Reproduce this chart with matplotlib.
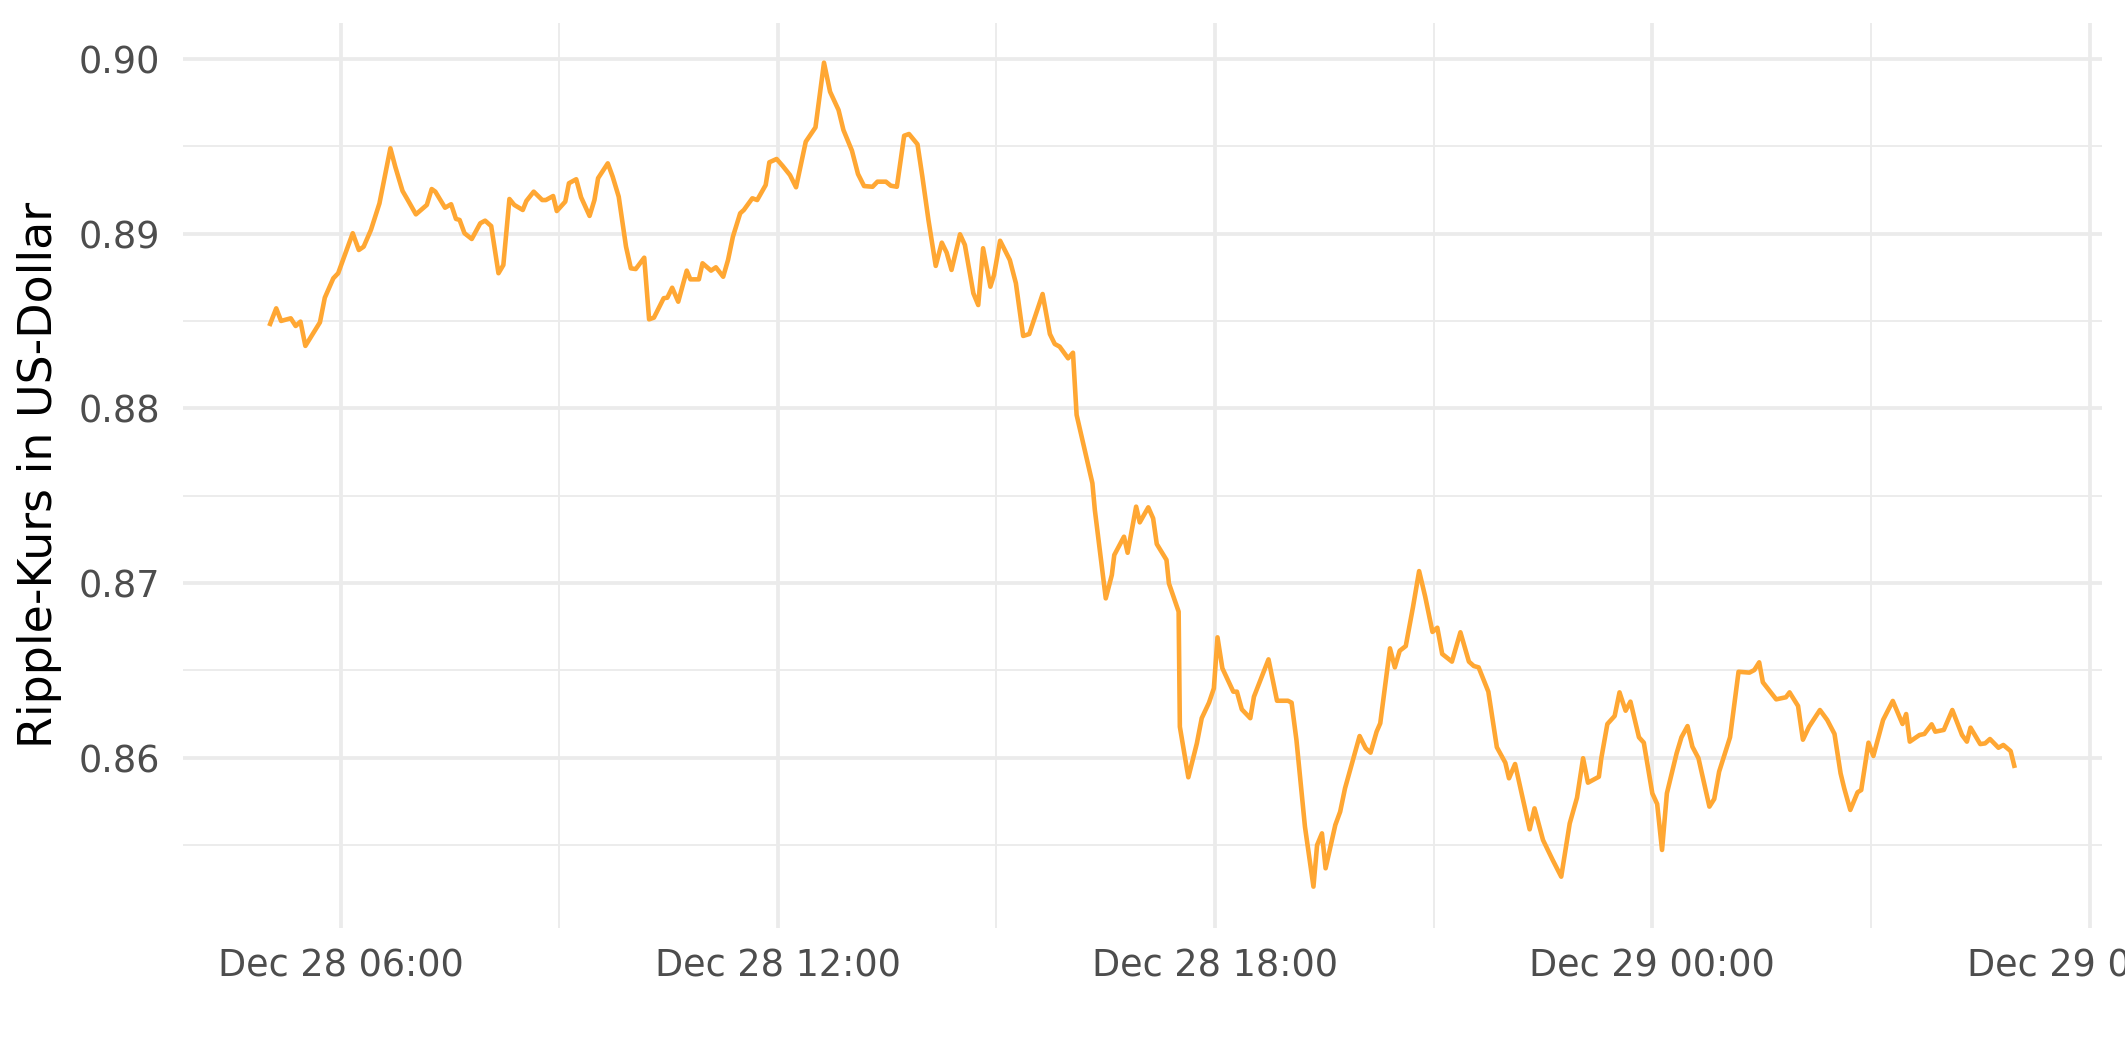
import pandas as pd
import matplotlib
matplotlib.use("Agg")
import matplotlib.pyplot as plt
import matplotlib.dates as mdates

# Ripple-Kurs (Dec 28 / Dec 29)
times_28 = ["05:02", "05:07", "05:11", "05:19", "05:23", "05:27", "05:31", "05:43", "05:47", "05:54",
            "05:58", "06:03", "06:10", "06:15", "06:19", "06:25", "06:32", "06:41", "06:45", "06:51",
            "06:55", "07:02", "07:11", "07:15", "07:18", "07:26", "07:31", "07:35", "07:38", "07:42",
            "07:48", "07:55", "07:59", "08:04", "08:10", "08:14", "08:19", "08:23", "08:30", "08:33",
            "08:39", "08:46", "08:49", "08:55", "08:58", "09:05", "09:08", "09:14", "09:18", "09:25",
            "09:29", "09:32", "09:40", "09:44", "09:49", "09:55", "09:59", "10:03", "10:10", "10:14",
            "10:18", "10:26", "10:29", "10:33", "10:38", "10:45", "10:48", "10:55", "10:58", "11:05",
            "11:09", "11:15", "11:19", "11:23", "11:29", "11:32", "11:39", "11:43", "11:50", "11:53",
            "11:59", "12:04", "12:10", "12:15", "12:23", "12:31", "12:38", "12:43", "12:50", "12:54",
            "13:01", "13:06", "13:11", "13:18", "13:22", "13:29", "13:33", "13:38", "13:44", "13:48",
            "13:55", "13:59", "14:04", "14:10", "14:15", "14:19", "14:23", "14:30", "14:34", "14:41",
            "14:45", "14:49", "14:55", "14:58", "15:03", "15:11", "15:16", "15:22", "15:27", "15:38",
            "15:44", "15:48", "15:52", "15:59", "16:03", "16:06", "16:19", "16:21", "16:30", "16:35",
            "16:37", "16:45", "16:48", "16:55", "16:58", "17:05", "17:09", "17:12", "17:20", "17:22",
            "17:30", "17:31", "17:38", "17:45", "17:49", "17:55", "17:59", "18:02", "18:06", "18:15",
            "18:18", "18:22", "18:29", "18:32", "18:44", "18:51", "19:00", "19:03", "19:07", "19:14",
            "19:21", "19:24", "19:28", "19:31", "19:39", "19:43", "19:47", "19:59", "20:04", "20:08",
            "20:13", "20:16", "20:24", "20:28", "20:32", "20:37", "20:43", "20:48", "20:53", "20:59",
            "21:03", "21:07", "21:15", "21:22", "21:29", "21:33", "21:37", "21:45", "21:52", "21:59",
            "22:02", "22:07", "22:19", "22:23", "22:30", "22:38", "22:45", "22:52", "22:58", "23:03",
            "23:07", "23:16", "23:18", "23:23", "23:29", "23:33", "23:38", "23:42", "23:49", "23:53"]
price_28 = [0.88483, 0.88572, 0.88500, 0.88515, 0.88471, 0.88496, 0.88357, 0.88492, 0.88633, 0.88744,
            0.88773, 0.88868, 0.89002, 0.88906, 0.88925, 0.89021, 0.89173, 0.89488, 0.89383, 0.89244,
            0.89196, 0.89110, 0.89164, 0.89255, 0.89240, 0.89148, 0.89168, 0.89084, 0.89078, 0.89002,
            0.88969, 0.89059, 0.89074, 0.89043, 0.88773, 0.88820, 0.89198, 0.89164, 0.89135, 0.89187,
            0.89240, 0.89192, 0.89192, 0.89215, 0.89129, 0.89183, 0.89288, 0.89311, 0.89208, 0.89101,
            0.89192, 0.89317, 0.89402, 0.89326, 0.89211, 0.88925, 0.88801, 0.88797, 0.88862, 0.88509,
            0.88519, 0.88630, 0.88633, 0.88690, 0.88610, 0.88788, 0.88738, 0.88738, 0.88830, 0.88788,
            0.88807, 0.88753, 0.88849, 0.88982, 0.89116, 0.89135, 0.89202, 0.89192, 0.89278, 0.89408,
            0.89427, 0.89387, 0.89335, 0.89265, 0.89526, 0.89608, 0.89978, 0.89812, 0.89707, 0.89593,
            0.89475, 0.89341, 0.89272, 0.89268, 0.89297, 0.89297, 0.89274, 0.89268, 0.89560, 0.89570,
            0.89511, 0.89326, 0.89078, 0.88815, 0.88948, 0.88891, 0.88792, 0.88996, 0.88935, 0.88658,
            0.88591, 0.88916, 0.88696, 0.88763, 0.88959, 0.88849, 0.88716, 0.88414, 0.88425, 0.88654,
            0.88425, 0.88368, 0.88353, 0.88286, 0.88318, 0.87962, 0.87571, 0.87418, 0.86912, 0.87046,
            0.87160, 0.87265, 0.87173, 0.87437, 0.87347, 0.87433, 0.87370, 0.87223, 0.87132, 0.86998,
            0.86836, 0.86177, 0.85888, 0.86082, 0.86226, 0.86315, 0.86397, 0.86689, 0.86512, 0.86378,
            0.86378, 0.86277, 0.86226, 0.86349, 0.86563, 0.86326, 0.86326, 0.86315, 0.86101, 0.85605,
            0.85262, 0.85500, 0.85567, 0.85367, 0.85615, 0.85691, 0.85825, 0.86124, 0.86054, 0.86029,
            0.86149, 0.86197, 0.86626, 0.86517, 0.86612, 0.86639, 0.86864, 0.87068, 0.86922, 0.86720,
            0.86744, 0.86594, 0.86550, 0.86718, 0.86550, 0.86525, 0.86517, 0.86378, 0.86060, 0.85971,
            0.85882, 0.85964, 0.85590, 0.85710, 0.85529, 0.85414, 0.85319, 0.85624, 0.85771, 0.85997,
            0.85857, 0.85891, 0.85997, 0.86193, 0.86239, 0.86374, 0.86269, 0.86321, 0.86117, 0.86086]
times_29 = ["00:00", "00:04", "00:08", "00:12", "00:20", "00:24", "00:29", "00:33", "00:38", "00:47",
            "00:51", "00:55", "01:04", "01:11", "01:20", "01:24", "01:28", "01:31", "01:42", "01:50",
            "01:53", "02:00", "02:04", "02:09", "02:18", "02:24", "02:30", "02:35", "02:38", "02:43",
            "02:49", "02:52", "02:58", "03:02", "03:10", "03:18", "03:26", "03:29", "03:32", "03:40",
            "03:44", "03:50", "03:53", "04:00", "04:07", "04:15", "04:19", "04:22", "04:30", "04:34",
            "04:38", "04:45", "04:49", "04:55", "04:58"]
price_29 = [0.85796, 0.85735, 0.85472, 0.85796, 0.86025, 0.86117, 0.86181, 0.86063, 0.85997, 0.85720,
            0.85764, 0.85920, 0.86117, 0.86492, 0.86487, 0.86502, 0.86546, 0.86432, 0.86334, 0.86346,
            0.86374, 0.86296, 0.86103, 0.86177, 0.86273, 0.86216, 0.86136, 0.85911, 0.85825, 0.85701,
            0.85802, 0.85815, 0.86086, 0.86010, 0.86216, 0.86325, 0.86193, 0.86250, 0.86092, 0.86130,
            0.86136, 0.86191, 0.86149, 0.86159, 0.86273, 0.86130, 0.86092, 0.86172, 0.86078, 0.86082,
            0.86107, 0.86057, 0.86073, 0.86038, 0.85954]

y_major = [0.86, 0.87, 0.88, 0.89, 0.90]
y_minor = [0.855, 0.865, 0.875, 0.885, 0.895]

ts = pd.to_datetime(["2017-12-28 " + t for t in times_28] + ["2017-12-29 " + t for t in times_29])
price = price_28 + price_29

W, H = 2125, 1062
fig = plt.figure(figsize=(W / 300, H / 300), dpi=300)
left, right, top, bottom = 182.7, 2101.7, 22.7, 927.7
ax = fig.add_axes([left / W, 1 - bottom / H, (right - left) / W, (bottom - top) / H])

ax.plot(ts, price, color="#FFA733", lw=1.1, zorder=3)

ax.set_xlim(pd.Timestamp("2017-12-28 03:50"), pd.Timestamp("2017-12-29 06:10"))
ax.set_ylim(0.85027, 0.90207)

ax.xaxis.set_major_locator(mdates.HourLocator(byhour=[0, 6, 12, 18]))
ax.xaxis.set_minor_locator(mdates.HourLocator(byhour=[3, 9, 15, 21]))
ax.xaxis.set_major_formatter(mdates.DateFormatter("%b %d %H:%M"))
ax.set_yticks(y_major)
ax.set_yticks(y_minor, minor=True)
ax.yaxis.set_major_formatter("{x:.2f}")

ax.grid(which="major", color="#EBEBEB", lw=0.9)
ax.grid(which="minor", color="#EBEBEB", lw=0.45)
ax.set_axisbelow(True)
for s in ax.spines.values():
    s.set_visible(False)
ax.tick_params(which="both", length=0)
ax.tick_params(axis="x", labelsize=8.8, labelcolor="#4D4D4D", pad=4.8)
ax.tick_params(axis="y", labelsize=8.8, labelcolor="#4D4D4D", pad=5.5)

ax.set_ylabel("Ripple-Kurs in US-Dollar", fontsize=11, color="black", va="center")
ax.yaxis.set_label_coords((40 - left) / (right - left), 0.5)

fig.savefig("out.png", dpi=300)
